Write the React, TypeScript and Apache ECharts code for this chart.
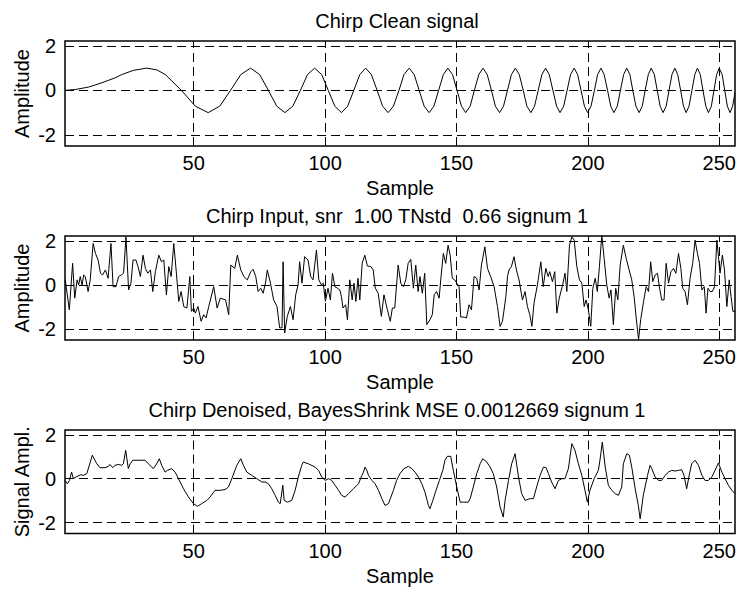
import React, { useEffect, useRef } from "react";
import * as echarts from "echarts";

const FONT = "'Liberation Sans', Arial, Helvetica, sans-serif";
const FS = 20;

const X_TICKS = [50, 100, 150, 200, 250];
const Y_TICKS = [-2, 0, 2];
const X_MIN = 1;
const X_MAX = 256;
const Y_MIN = -2.5;
const Y_MAX = 2.22;

const TITLES = [
  "Chirp Clean signal",
  "Chirp Input, snr  1.00 TNstd  0.66 signum 1",
  "Chirp Denoised, BayesShrink MSE 0.0012669 signum 1",
];
const Y_NAMES = ["Amplitude", "Amplitude", "Signal Ampl."];
const X_NAME = "Sample";

// [sample, value]
const cleanSignal = [
  [1, 0], [5, 0.04], [10, 0.15], [15, 0.34], [20, 0.56], [22.6, 0.71], [27, 0.9], [32, 1], [36, 0.92], [39.2, 0.71],
  [45.3, 0], [50.6, -0.71], [55.5, -1], [59.9, -0.71], [64, 0], [67.9, 0.71], [71.6, 1], [75.1, 0.71], [78.4, 0],
  [81.6, -0.71], [84.7, -1], [87.7, -0.71], [90.6, 0], [93.3, 0.71], [96, 1], [98.7, 0.71], [101.2, 0], [103.7, -0.71],
  [106.2, -1], [108.6, -0.71], [110.9, 0], [113.2, 0.71], [115.4, 1], [117.6, 0.71], [119.8, 0], [121.9, -0.71],
  [124, -1], [126, -0.71], [128.1, 0], [130, 0.71], [132, 1], [133.9, 0.71], [135.8, 0], [137.7, -0.71], [139.6, -1],
  [141.4, -0.71], [143.2, 0], [145, 0.71], [146.7, 1], [148.5, 0.71], [150.2, 0], [151.9, -0.71], [153.5, -1],
  [155.2, -0.71], [156.8, 0], [158.5, 0.71], [160.1, 1], [161.7, 0.71], [163.3, 0], [164.8, -0.71], [166.4, -1],
  [167.9, -0.71], [169.4, 0], [170.9, 0.71], [172.4, 1], [173.9, 0.71], [175.4, 0], [176.8, -0.71], [178.3, -1],
  [179.7, -0.71], [181.1, 0], [182.5, 0.71], [183.9, 1], [185.3, 0.71], [186.7, 0], [188.1, -0.71], [189.4, -1],
  [190.8, -0.71], [192.1, 0], [193.4, 0.71], [194.8, 1], [196.1, 0.71], [197.4, 0], [198.7, -0.71], [199.9, -1],
  [201.2, -0.71], [202.5, 0], [203.7, 0.71], [205, 1], [206.2, 0.71], [207.5, 0], [208.7, -0.71], [209.9, -1],
  [211.2, -0.71], [212.4, 0], [213.6, 0.71], [214.8, 1], [216, 0.71], [217.1, 0], [218.3, -0.71], [219.5, -1],
  [220.7, -0.71], [221.8, 0], [223, 0.71], [224.1, 1], [225.3, 0.71], [226.4, 0], [227.5, -0.71], [228.6, -1],
  [229.8, -0.71], [230.9, 0], [232, 0.71], [233.1, 1], [234.2, 0.71], [235.3, 0], [236.4, -0.71], [237.4, -1],
  [238.5, -0.71], [239.6, 0], [240.7, 0.71], [241.7, 1], [242.8, 0.71], [243.8, 0], [244.9, -0.71], [245.9, -1],
  [247, -0.71], [248, 0], [249, 0.71], [250, 1], [251.1, 0.71], [252.1, 0], [253.1, -0.71], [254.1, -1],
  [255.1, -0.71], [256, -0.1],
];

const noisyInput = [
  [1.1, 0.23], [2.65, -1.13], [3.9, 0.98], [4.7, -0.6], [5.6, 0.23], [6.2, 0], [6.8, 0.38], [7.5, 0], [8.1, 0.45],
  [8.7, 0.38], [9.8, -0.3], [10.6, 0.23], [11.7, 1.88], [12.6, 1.43], [13.6, 1.13], [14.5, 0.53], [15.3, 0.45],
  [16.4, 0.68], [17.4, 0.3], [18.5, 1.88], [19.3, -0.08], [20.4, -0.08], [21.4, 0.38], [22.4, 0.45], [23.3, 0.53],
  [24.2, 2.18], [25.2, -0.23], [26.1, 0.08], [26.9, 1.13], [28, 1.13], [28.8, 0.83], [29.7, 0.38], [30.7, 1.35],
  [31.6, 0.75], [32.5, 0.53], [33.5, 0.68], [34.4, -0.3], [35.4, 0.6], [36.7, 1.35], [37.7, 1.05], [38.6, 1.13],
  [39.6, -0.45], [40.5, 0.83], [41.4, 0.38], [42.4, 1.88], [43.4, 0.53], [44.3, -0.75], [45.2, -0.3], [46.2, -0.98],
  [47.4, -1.05], [48.5, 0.38], [49.1, -1.2], [50, -1.05], [50.6, -1.28], [51.6, -0.98], [52.8, -1.65], [53.8, -1.35],
  [54.7, -1.5], [55.7, -0.98], [57.6, -0.08], [58.9, -1.05], [60.1, -0.6], [62.1, -0.68], [63.3, -1.35],
  [64.1, 0.9], [65.6, 0.75], [66.6, 1.35], [67.9, 0.68], [69.1, 0.38], [70.4, 0.23], [71.7, 0.6], [72.6, 0.71],
  [73.6, 0.38], [74.5, -0.3], [75.5, -0.15], [76.4, -0.38], [77.3, 0.08], [78, 0.68], [79.2, 0.08], [80.4, -0.68],
  [81.7, -0.98], [82.7, -1.95], [83.6, -1.95], [84, 1.05], [84.6, -2.18], [85.6, -1.43], [86.8, -0.98], [87.8, -1.58],
  [88.8, -0.45], [89.7, 0], [90.3, 1.05], [91.2, 0.08], [92.2, 1.28], [93.5, 1.13], [94.5, 0.38], [95.4, 0.23],
  [96.7, 1.58], [97.6, 0.23], [98.6, 0], [99.3, 0.08], [100.1, -0.75], [101.1, -0.15], [102, -0.68], [102.8, 0.53],
  [103.7, -0.08], [104.7, -0.15], [105.6, -0.23], [106.2, -0.53], [106.8, -1.05], [107.8, -0.9], [108.5, -1.58],
  [109.4, 0.23], [110.3, -0.68], [111, 0.08], [111.7, -0.75], [112.5, 0.3], [113.2, -0.68], [114.1, 0.98],
  [115.1, 1.35], [116.1, 0.86], [117.4, 0.83], [118.3, 0.68], [119.1, -0.15], [120.2, -0.38], [121.4, -1.43],
  [122.4, -0.45], [123.7, -1.13], [124.8, -1.65], [125.6, -1.05], [126.5, -1.05], [127.8, 0.9], [128.8, 0.08],
  [129.8, -0.08], [130.7, 0.23], [131.6, 0.98], [132.6, 1.16], [133.6, -0.15], [134.5, 0.9], [135.4, -0.3],
  [136.1, 0.38], [137, -0.38], [137.9, 0.53], [138.7, -1.8], [139.9, -1.58], [140.8, -1.35], [141.5, -0.45],
  [142.4, -0.3], [143.4, -0.6], [144, 0.23], [145, 1.43], [145.9, 0.98], [146.8, 1.8], [147.6, 1.35], [148.4, 0.3],
  [149.3, 0.23], [150.1, 0.08], [151, -0.08], [151.6, -1.46], [152.9, -1.46], [153.8, -1.5], [154.8, -0.9],
  [155.7, -1.13], [156.7, 0.38], [157.7, 0.3], [158.6, -0.23], [159.5, 0.9], [160.8, 1.73], [161.8, 0.75],
  [163, 0.38], [164.3, -0.08], [165.6, -0.98], [166.6, -1.88], [167.5, -1.65], [168.8, -0.53], [169.4, 0.38],
  [170, 0.68], [170.9, 0.83], [171.9, 1.28], [172.8, 0.68], [173.8, 0.23], [175.1, -0.68], [176.1, -0.3], [177, -0.98],
  [177.9, -1.35], [178.7, -1.88], [179.5, -0.83], [180.8, 0], [182.1, 1.05], [183, -0.08], [184, 0.75], [184.9, 0.38],
  [185.5, 0.6], [186.5, 0.15], [187.4, 0.6], [188.2, -1.28], [189.1, -0.6], [190.4, 0], [191.3, 0.53], [192, -0.3],
  [193, 1.8], [193.9, 2.18], [194.8, 2.03], [195.8, 0.83], [196.8, 0.23], [197.7, 0.08], [198.6, -0.98], [199.3, -0.68],
  [200.2, -1.13], [201.1, -1.88], [201.9, -0.15], [202.8, 0.3], [203.6, -0.3], [204.4, 0.83], [205.3, 2.26],
  [206.2, 1.2], [207.2, 0], [208.1, -0.6], [208.8, -0.23], [209.7, -1.8], [210.6, -0.15], [211.4, -0.68], [212.3, 0.9],
  [213.5, 1.8], [214.6, 1.2], [215.7, 0.68], [216.7, 0.23], [217.6, -0.53], [218.4, -1.5], [219.3, -2.48],
  [220.1, -1.58], [221.2, -0.75], [222.2, -0.08], [223.1, -0.3], [223.9, 1.05], [224.7, 0.15], [225.6, 0.45],
  [226.5, 0.53], [227.2, -0.08], [228.1, -0.68], [229, -0.68], [229.8, 0.98], [230.7, 0.08], [231.6, 0.6],
  [232.6, 0.75], [233.5, 0.53], [234.5, 1.43], [235.4, 0.75], [236.1, -0.15], [237, -0.3], [237.9, -0.9], [238.9, 0.3],
  [239.9, 0.98], [240.8, 2.03], [241.7, 1.43], [242.5, 0.98], [243.4, -0.23], [244.3, -0.08], [245, -1.28],
  [245.7, -0.15], [246.5, -0.3], [247.4, -0.3], [248.2, -0.08], [249.1, 2.03], [249.7, 1.28], [250.3, 0.53],
  [251.2, 1.35], [252, 0.68], [252.9, -0.98], [253.8, 0.23], [254.5, -0.53], [255.2, -1.2], [256, -1.2],
];

const denoised = [
  [1, -0.08], [1.9, -0.23], [2.7, -0.08], [3.5, 0.3], [4.2, 0], [5.2, 0.08], [7, 0.18], [8, 0.15], [9.3, 0.23],
  [11.4, 1.07], [13.1, 0.68], [14.3, 0.5], [16.2, 0.5], [17.5, 0.56], [18.1, 0.65], [19.2, 0.5], [20, 0.61],
  [21.3, 0.65], [22.6, 0.61], [23.2, 0.68], [24.1, 1.29], [25.1, 0.46], [25.8, 0.68], [26.8, 0.84], [31.5, 0.84],
  [32.7, 0.68], [34.6, 0.46], [35.9, 0.68], [36.9, 0.91], [37.8, 0.61], [39.1, 0.3], [40, 0.38], [41.6, 0.46],
  [42.9, 0.3], [44.2, 0], [46.1, -0.46], [48, -0.84], [49.9, -1.14], [51.4, -1.26], [53, -1.14], [55, -0.99],
  [56.2, -0.84], [58.1, -0.53], [60, -0.53], [61.9, -0.5], [63.2, -0.38], [64.5, 0], [66.4, 0.61], [67.9, 0.91],
  [68.9, 0.61], [70.2, 0.3], [72.1, 0.15], [74, 0], [75.9, -0.15], [77.1, -0.15], [78.4, -0.23], [79.7, -0.46],
  [81, -0.76], [82.2, -1.07], [82.9, -1.14], [83.9, -0.3], [84.4, -0.99], [85.6, -1.07], [87.3, -0.99], [88.6, -0.53],
  [89.8, 0.08], [91.1, 0.61], [91.7, 0.76], [93.6, 0.68], [96.2, 0.53], [97.5, 0.38], [98.7, 0.08], [100, -0.08],
  [101.3, 0], [102.5, -0.08], [103.8, -0.3], [105.1, -0.53], [106.3, -0.76], [107.6, -0.84], [108.9, -0.68],
  [110.8, -0.46], [112.7, -0.23], [114, 0.15], [114.6, 0.3], [115.2, 0.53], [115.9, 0.38], [116.5, 0.15],
  [117.8, -0.08], [119, -0.23], [120.3, -0.53], [121.6, -0.91], [122.8, -1.22], [124.1, -1.14], [126, -0.53],
  [127.2, -0.08], [128.5, 0.23], [130, 0.46], [131.7, 0.56], [133, 0.46], [134.2, 0.3], [135.5, 0.08], [136.8, -0.23],
  [138, -0.61], [139.3, -1.22], [139.9, -1.37], [141, -0.99], [142.2, -0.53], [143.5, -0.08], [144.8, 0.38],
  [145.6, 0.84], [146.5, 1.02], [147.8, 1.02], [148.8, 0.38], [150.1, -0.38], [151.4, -1.07], [152.6, -1.07],
  [154.5, -1.07], [155.2, -0.91], [156.4, -0.38], [157.7, 0.23], [159, 0.68], [160, 0.91], [161.5, 0.76],
  [162.8, 0.53], [164, 0.23], [165.3, -0.38], [166.6, -1.29], [167.8, -1.75], [168.5, -0.99], [169.8, -0.08],
  [171, 0.68], [172.3, 1.14], [173.6, 0.08], [174.8, -0.68], [176.1, -0.99], [178, -0.91], [179.3, -0.91],
  [180.5, -0.38], [181.8, 0.15], [183.1, 0.53], [184.1, 0.5], [185, 0.23], [186.2, -0.15], [187.5, -0.46],
  [188.8, -0.08], [190.1, 0], [191.3, 0], [192.6, 0.46], [193.9, 1.6], [195.1, 1.29], [196.4, 0.68], [197.7, 0.15],
  [198.9, -0.53], [199.8, -1.07], [200.8, -0.53], [202.4, 0], [204, 0.38], [204.6, 0.84], [205.5, 1.67], [206.6, 0.53],
  [207.8, -0.3], [209.1, -0.53], [210.4, -0.68], [211.6, -0.76], [212.9, -0.38], [213.5, 0.68], [214.8, 1.14],
  [215.8, 1.07], [216.7, 0.53], [217.9, -0.38], [219.2, -1.22], [219.9, -1.83], [221.1, -0.76], [222.7, 0.15],
  [223.7, 0.61], [224.3, 0.46], [225.6, 0.08], [226.9, -0.08], [228.1, -0.08], [229.4, 0.15], [230.7, 0.3],
  [231.9, 0.38], [233.2, 0.35], [234.5, 0.38], [235.7, 0.41], [236.6, 0.15], [237.6, -0.46], [238.7, 0.23],
  [239.5, 0.68], [240.8, 0.84], [242.1, 0.61], [243.4, 0.15], [244.6, -0.08], [245.9, -0.08], [247.2, 0.08],
  [248.4, 0.38], [249.7, 0.72], [251, 0.3], [252.2, 0], [253.5, -0.3], [254.8, -0.53], [256, -0.68],
];

const SERIES = [cleanSignal, noisyInput, denoised];

const PANELS = [
  { top: 41, height: 105 },
  { top: 236, height: 104 },
  { top: 430, height: 103.5 },
];
const PLOT_LEFT = 65;
const PLOT_RIGHT = 735;

export default function App() {
  const ref = useRef<HTMLDivElement>(null);

  useEffect(() => {
    if (!ref.current) return;
    const chart = echarts.init(ref.current, undefined, { renderer: "svg" });
    const textStyle = { color: "#000", fontSize: FS, fontFamily: FONT };
    const cx = (PLOT_LEFT + PLOT_RIGHT) / 2;
    const txt = (text: string) => ({
      text,
      fill: "#000",
      fontSize: FS,
      fontFamily: FONT,
      align: "center",
      verticalAlign: "middle",
      textAlign: "center",
      textVerticalAlign: "middle",
    });

    const graphic: any[] = [];
    PANELS.forEach((p, i) => {
      graphic.push({ type: "text", x: cx - 3, y: p.top - 20, style: txt(TITLES[i]) });
      graphic.push({ type: "text", x: cx, y: p.top + p.height + 42, style: txt(X_NAME) });
      graphic.push({
        type: "text",
        x: 22,
        y: p.top + p.height / 2,
        rotation: Math.PI / 2,
        style: txt(Y_NAMES[i]),
      });
    });

    const option: any = {
      animation: false,
      backgroundColor: "#fff",
      grid: PANELS.map((p) => ({
        left: PLOT_LEFT,
        right: 740 - PLOT_RIGHT,
        top: p.top,
        height: p.height,
        show: true,
        borderColor: "#000",
        borderWidth: 1.5,
        backgroundColor: "transparent",
      })),
      xAxis: PANELS.map((_, i) => ({
        gridIndex: i,
        type: "value",
        min: X_MIN,
        max: X_MAX,
        axisLine: { show: false },
        axisTick: { show: true, inside: true, length: 5, customValues: X_TICKS, lineStyle: { color: "#000" } },
        axisLabel: { customValues: X_TICKS, margin: 7, ...textStyle },
        splitLine: { show: false },
      })),
      yAxis: PANELS.map((_, i) => ({
        gridIndex: i,
        type: "value",
        min: Y_MIN,
        max: Y_MAX,
        axisLine: { show: false },
        axisTick: { show: true, inside: true, length: 5, customValues: Y_TICKS, lineStyle: { color: "#000" } },
        axisLabel: { customValues: Y_TICKS, margin: 9, ...textStyle },
        splitLine: { show: false },
      })),
      graphic,
      series: SERIES.map((data, i) => ({
        type: "line",
        xAxisIndex: i,
        yAxisIndex: i,
        data,
        symbol: "none",
        showSymbol: false,
        clip: true,
        lineStyle: { color: "#000", width: 1 },
        markLine: {
          silent: true,
          symbol: ["none", "none"],
          label: { show: false },
          lineStyle: { color: "#000", width: 1, type: [9, 5] },
          data: [
            ...X_TICKS.map((v) => ({ xAxis: v })),
            ...Y_TICKS.map((v) => ({ yAxis: v })),
          ],
        },
      })),
    };
    chart.setOption(option);
    return () => chart.dispose();
  }, []);

  return (
    <div
      ref={ref}
      style={{ position: "fixed", left: 0, top: 0, width: 740, height: 589, background: "#fff" }}
    />
  );
}
